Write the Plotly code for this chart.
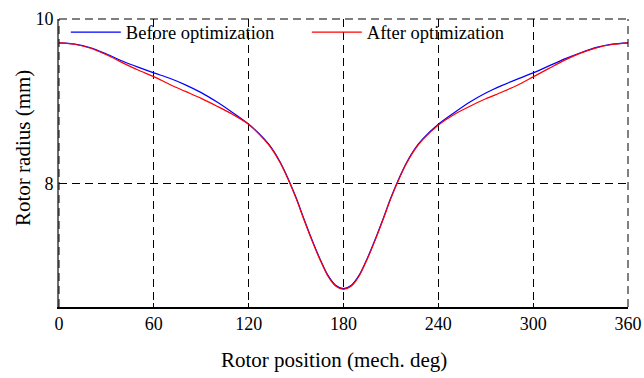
import plotly.graph_objects as go

# Rotor position in mechanical degrees
position_deg = [0, 10, 20, 30, 40, 50, 60, 70, 80, 90, 100, 110, 120, 130, 135, 140, 145, 150, 155, 160, 165, 170, 175, 180,
                185, 190, 195, 200, 205, 210, 215, 220, 225, 230, 240, 250, 260, 270, 280, 290, 300, 310, 320, 330, 340, 350, 360]

# Rotor radius (mm) before optimization
radius_before = [9.71, 9.695, 9.65, 9.575, 9.49, 9.415, 9.345, 9.28, 9.20, 9.105, 8.99, 8.86, 8.72, 8.54, 8.42, 8.26, 8.06, 7.83, 7.57, 7.32, 7.09, 6.89, 6.765, 6.725,
                 6.765, 6.89, 7.09, 7.32, 7.57, 7.83, 8.06, 8.26, 8.42, 8.54, 8.72, 8.86, 8.99, 9.10, 9.19, 9.27, 9.345, 9.43, 9.515, 9.59, 9.655, 9.695, 9.71]

# Rotor radius (mm) after optimization
radius_after = [9.71, 9.693, 9.645, 9.565, 9.47, 9.38, 9.30, 9.205, 9.12, 9.035, 8.94, 8.84, 8.72, 8.53, 8.41, 8.25, 8.05, 7.82, 7.56, 7.31, 7.08, 6.88, 6.755, 6.715,
                6.755, 6.88, 7.08, 7.31, 7.56, 7.82, 8.05, 8.25, 8.41, 8.53, 8.71, 8.84, 8.94, 9.03, 9.11, 9.195, 9.297, 9.40, 9.50, 9.585, 9.65, 9.69, 9.71]

x_ticks = [0, 60, 120, 180, 240, 300, 360]
y_ticks = [8, 10]

FONT = "Liberation Serif"
DASH = "8px,5px"

fig = go.Figure()
fig.add_trace(go.Scatter(x=position_deg, y=radius_before, mode="lines", name="Before optimization",
                         line=dict(color="rgb(0,0,255)", width=1.2, shape="spline", smoothing=0.8)))
fig.add_trace(go.Scatter(x=position_deg, y=radius_after, mode="lines", name="After optimization",
                         line=dict(color="rgb(255,0,0)", width=1.2, shape="spline", smoothing=0.8)))

grid = dict(showgrid=True, gridcolor="black", gridwidth=1, griddash=DASH)

# dashed frame on the top and right edges, dashed overlay on the left axis
frame = dict(type="line", xref="paper", yref="paper", layer="above",
             line=dict(color="black", width=1, dash=DASH))
fig.add_shape(x0=0, x1=1, y0=1, y1=1, **frame)
fig.add_shape(x0=1, x1=1, y0=0, y1=1, **frame)
fig.add_shape(x0=0, x1=0, y0=0, y1=1, **frame)

fig.update_layout(
    width=644, height=378,
    margin=dict(l=59, r=16, t=19, b=71),
    paper_bgcolor="white", plot_bgcolor="white",
    font=dict(family=FONT, size=18, color="black"),
    showlegend=True,
    legend=dict(orientation="h", x=0.012, y=1.019, xanchor="left", yanchor="top",
                bgcolor="rgba(0,0,0,0)", font=dict(family=FONT, size=18.5),
                entrywidth=176, entrywidthmode="pixels", itemwidth=50,
                tracegroupgap=0),
    xaxis=dict(range=[0, 360], tickvals=x_ticks, ticks="inside", ticklen=4, tickcolor="black",
               showline=True, linecolor="black", linewidth=1.5, zeroline=False, automargin=False,
               tickfont=dict(family=FONT, size=18), **grid),
    yaxis=dict(range=[6.5, 10], tickvals=y_ticks, ticks="inside", ticklen=4, tickcolor="black",
               showline=True, linecolor="rgb(110,110,110)", linewidth=2, zeroline=False, automargin=False,
               tickfont=dict(family=FONT, size=18), **grid),
    annotations=[
        dict(text="Rotor position (mech. deg)", xref="paper", yref="paper", x=0.484, y=-0.184,
             xanchor="center", yanchor="middle", showarrow=False, font=dict(family=FONT, size=21)),
        dict(text="Rotor radius (mm)", xref="paper", yref="paper", x=-0.0633, y=0.552, textangle=-90,
             xanchor="center", yanchor="middle", showarrow=False, font=dict(family=FONT, size=21)),
    ],
)

fig.write_html("out.html")
